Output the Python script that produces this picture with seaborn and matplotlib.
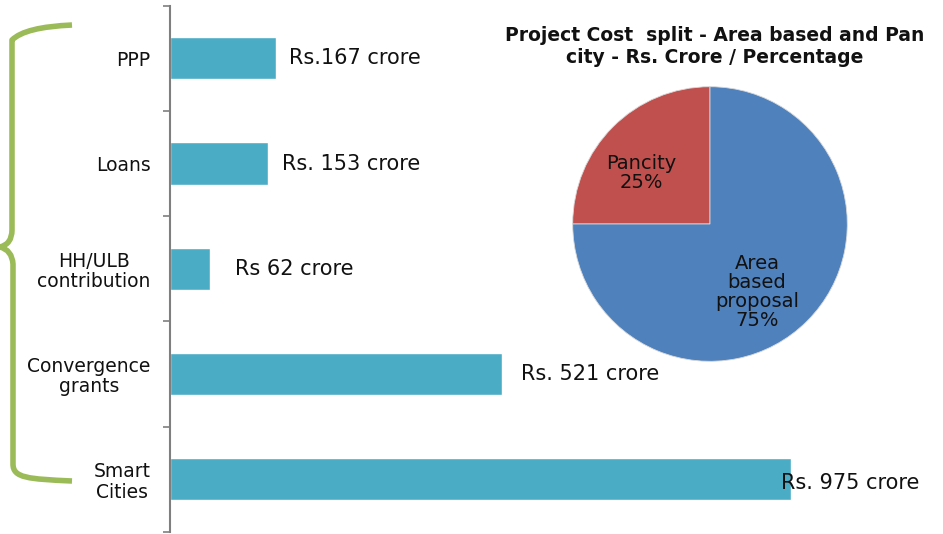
import matplotlib
matplotlib.use("Agg")
import matplotlib.pyplot as plt
from matplotlib.path import Path
from matplotlib.patches import PathPatch
import seaborn as sns
import pandas as pd
import numpy as np

# Funding sources (Rs. crore)
sources = ["PPP", "Loans", "HH/ULB\ncontribution", "Convergence\ngrants", "Smart\nCities"]
amounts = [167, 153, 62, 521, 975]
amount_labels = ["Rs.167 crore", "Rs. 153 crore", "Rs 62 crore", "Rs. 521 crore", "Rs. 975 crore"]

# Project cost split (percent)
split_names = ["Pancity", "Area\nbased\nproposal"]
split_shares = [25, 75]
pie_title = "Project Cost  split - Area based and Pan\ncity - Rs. Crore / Percentage"

W, H = 943, 534
sns.set_theme(style="white")
plt.rcParams["font.family"] = ["DejaVu Sans"]

fig = plt.figure(figsize=(W / 100, H / 100), dpi=100)
fig.patch.set_facecolor("white")


def px_rect(x0, y0, x1, y1):
    """Figure-fraction rectangle from pixel box (top-left origin)."""
    return [x0 / W, (H - y1) / H, (x1 - x0) / W, (y1 - y0) / H]


# ---- horizontal bar chart ----
ax = fig.add_axes(px_rect(170, 5.7, 943, 531.7))
df = pd.DataFrame({"source": sources, "amount": amounts})
sns.barplot(data=df, y="source", x="amount", order=sources, orient="h",
            color="#4BACC6", saturation=1, width=0.4, ax=ax)
ax.set_xlim(0, (943 - 170) / ((791.7 - 170.3) / 975))
ax.set_ylim(len(sources) - 0.5, -0.5)
ax.set_xlabel("")
ax.set_ylabel("")
ax.set_xticks([])
for s in ["top", "right", "bottom"]:
    ax.spines[s].set_visible(False)
ax.spines["left"].set_color("#7f7f7f")
ax.spines["left"].set_linewidth(1.5)
ax.set_yticks(np.arange(len(sources) + 1) - 0.5, minor=True)
ax.tick_params(axis="y", which="minor", length=5, width=1.2, color="#7f7f7f", left=True)
ax.tick_params(axis="y", which="major", length=0, pad=14, labelsize=13.5, labelcolor="#111111")
for t in ax.get_yticklabels():
    t.set_multialignment("center")
    t.set_linespacing(1.1)

# value labels (pixel offsets from bar end)
label_dx = [13, 14, 25, 19, -10]
label_dy = [0, 0, 0, 0, -4]
for i, (v, txt) in enumerate(zip(amounts, amount_labels)):
    ax.annotate(txt, xy=(v, i), xytext=(label_dx[i], label_dy[i]),
                textcoords="offset pixels", ha="left", va="center",
                fontsize=15, color="#111111")

# ---- pie chart ----
cx, cy, r = 710, 224, 137.3
R = r * 1.25
pax = fig.add_axes(px_rect(cx - R, cy - R, cx + R, cy + R))
wedges, texts = pax.pie(split_shares, labels=None, startangle=90, counterclock=True,
                        colors=["#C0504D", "#4F81BD"],
                        wedgeprops=dict(edgecolor="#d9d9d9", linewidth=0.6))
pax.set_xlim(-1.25, 1.25)
pax.set_ylim(-1.25, 1.25)
pax.set_aspect("equal")
pax.axis("off")
label_pos = [(-69 / r, 51 / r), (47 / r, -68 / r)]
for name, share, (lx, ly) in zip(split_names, split_shares, label_pos):
    pax.text(lx, ly, f"{name}\n{share}%", ha="center", va="center",
             fontsize=14, color="#111111", linespacing=1.0)

fig.text(715 / W, 1 - 46.5 / H, pie_title, ha="center", va="center",
         fontsize=13.5, fontweight="bold", color="#111111", linespacing=1.15)

# ---- curly brace grouping the sources ----
brace_px = [
    (72, 25), (25, 27), (12, 40),
    (12, 230), (12, 244), (0, 247),
    (12, 250), (13, 264),
    (13, 464), (13, 478), (28, 479), (72, 481),
]
codes = [Path.MOVETO, Path.CURVE3, Path.CURVE3,
         Path.LINETO, Path.CURVE3, Path.CURVE3,
         Path.CURVE3, Path.CURVE3,
         Path.LINETO, Path.CURVE4, Path.CURVE4, Path.CURVE4]
verts = [(x / W, (H - y) / H) for x, y in brace_px]
fig.patches.append(PathPatch(Path(verts, codes), transform=fig.transFigure,
                             facecolor="none", edgecolor="#9BBB59", linewidth=4,
                             capstyle="butt", joinstyle="round"))

fig.savefig("out.png", dpi=100, facecolor="white")
